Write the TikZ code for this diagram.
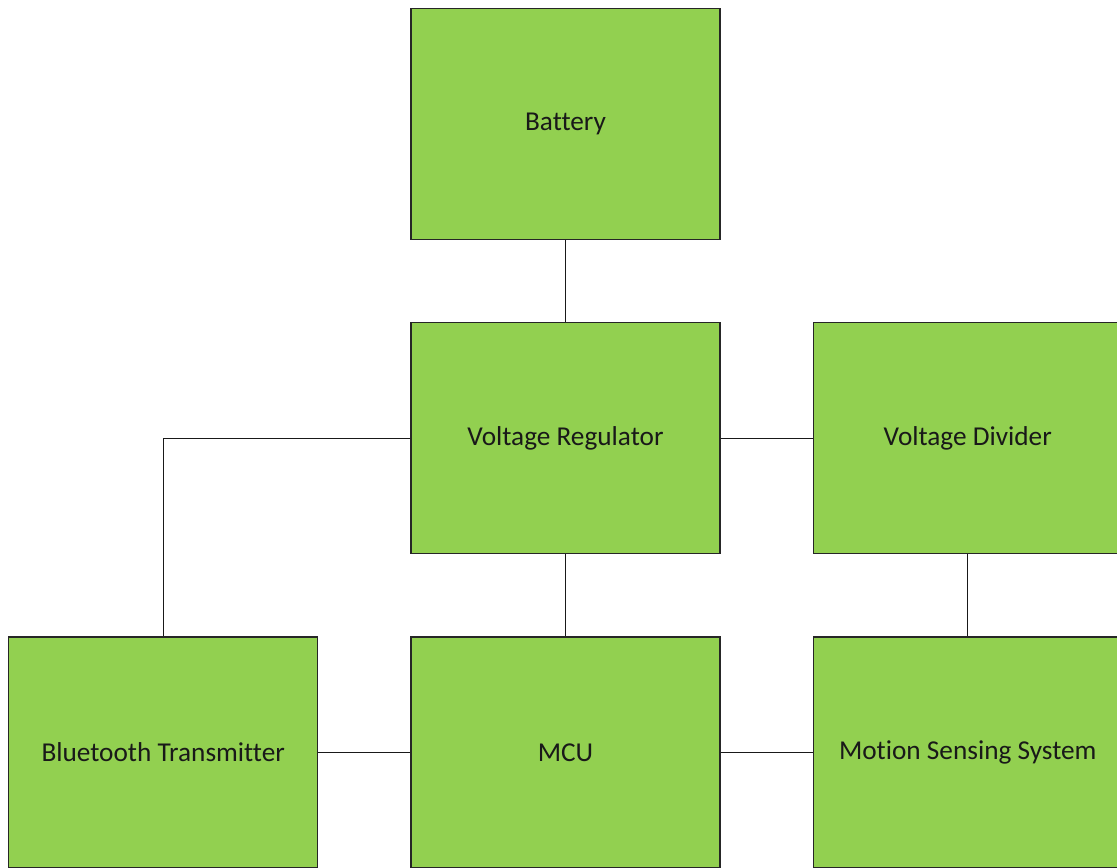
\documentclass[tikz,border=0pt]{standalone}
\usepackage{fontspec}
\setmainfont[Ligatures={NoCommon}]{Carlito}
\usepackage{xcolor}
\usetikzlibrary{positioning}
\definecolor{boxgreen}{HTML}{92D050}

\begin{document}
\begin{tikzpicture}[
    node distance=2.05cm and 2.3cm,
    box/.style={rectangle, draw=black!85, line width=0.9pt, fill=boxgreen,
                minimum width=7.725cm, minimum height=5.775cm,
                font=\fontsize{19.4}{23}\selectfont, text=black!90, align=center},
    wire/.style={draw=black!90, line width=0.8pt}
]
\clip (0,0) rectangle (27.925,-21.675);
\node[box] (bat) at (14.1375,-3.1) {Battery};
\node[box, below=of bat] (vreg) {Voltage Regulator};
\node[box, right=of vreg] (vdiv) {Voltage Divider};
\node[box, below=of vreg] (mcu) {MCU};
\node[box, left=of mcu]  (bt)  {Bluetooth Transmitter};
\node[box, right=of mcu] (mss) {Motion Sensing System};

\draw[wire] (bat) -- (vreg);
\draw[wire] (vreg) -- (vdiv);
\draw[wire] (vreg) -- (mcu);
\draw[wire] (vdiv) -- (mss);
\draw[wire] (vreg.west) -| (bt.north);
\draw[wire] (bt) -- (mcu);
\draw[wire] (mcu) -- (mss);
\end{tikzpicture}
\end{document}
